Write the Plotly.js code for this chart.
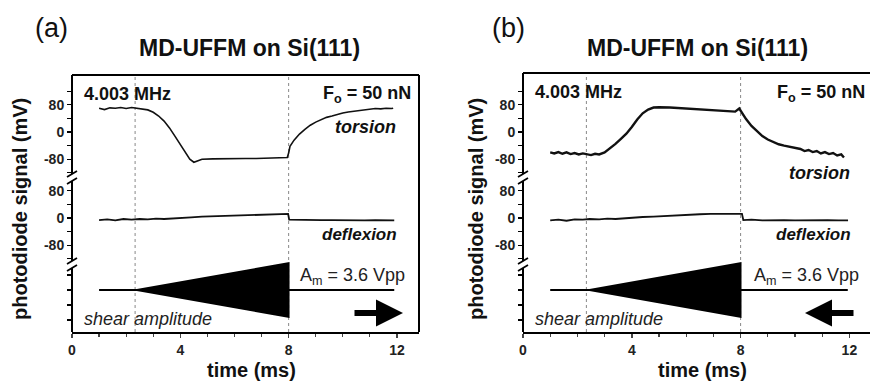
<!DOCTYPE html>
<html><head><meta charset="utf-8">
<script src="https://cdn.plot.ly/plotly-3.0.1.min.js"></script>
<style>html,body{margin:0;padding:0;background:#fff}</style>
</head><body><div id="chart" style="width:870px;height:382px"></div>
<script>
// ---------- data ----------
const panelLabels = ['(a)', '(b)'];
const chartTitle = 'MD-UFFM on Si(111)';
const xTickVals = [0, 4, 8, 12];
const yTickVals = [-120, -80, -40, 0, 40, 80, 120];
const yTickText = ['', '-80', '', '0', '', '80', ''];
const shearTickVals = [-2, -1, 0, 1];

// panel (a): torsion (mV)
const timeTorsionA = [1.0,1.2,1.4,1.6,1.8,2.0,2.2,2.4,2.6,2.8,3.0,3.2,3.4,3.6,3.8,4.0,4.2,4.35,4.5,4.65,4.8,5.2,5.6,6.0,6.4,6.8,7.2,7.6,7.95,8.0,8.05,8.2,8.4,8.6,8.8,9.0,9.2,9.4,9.6,9.8,10.0,10.2,10.4,10.6,10.8,11.0,11.2,11.4,11.6,11.8,11.86];
const torsionA     = [70,66,71,70,72,69,72,70,69,65,58,47,32,12,-12,-37,-62,-80,-89,-84,-80,-79,-78,-79,-78,-78,-77,-77,-75,-62,-42,-24,-6,8,20,29,37,43,47,52,56,59,61,64,65,68,69,68,70,69,70];
// panel (a): deflexion (mV)
const timeDeflA = [1.0,1.3,1.6,1.9,2.2,2.5,2.8,3.1,3.4,3.7,4.0,4.4,4.8,5.2,5.6,6.0,6.4,6.8,7.2,7.6,7.98,8.02,8.4,8.8,9.2,9.6,10.0,10.4,10.8,11.2,11.6,11.9];
const deflA     = [-6,-4,-7,-3,-5,-3,-4,-2,-3,-1,0,2,4,5,7,8,9,10,11,11,12,-5,-6,-7,-6,-6,-7,-6,-7,-6,-7,-7];
// panel (a): shear excitation amplitude (V, half of peak-to-peak)
const shearTimeA = [1.0, 2.4, 8.0, 8.0, 11.9];
const shearAmpA  = [0, 0, 1.8, 0, 0];

// panel (b): torsion (mV)
const timeTorsionB = [1.0,1.15,1.3,1.45,1.6,1.75,1.9,2.05,2.2,2.35,2.5,2.65,2.8,3.0,3.2,3.4,3.6,3.8,4.0,4.2,4.4,4.6,4.8,5.0,5.4,5.8,6.2,6.6,7.0,7.4,7.8,7.95,8.05,8.2,8.4,8.6,8.8,9.0,9.2,9.4,9.6,9.8,10.0,10.2,10.35,10.5,10.65,10.8,10.95,11.1,11.25,11.4,11.55,11.7,11.8];
const torsionB     = [-60,-63,-59,-64,-60,-65,-62,-66,-63,-66,-68,-64,-66,-60,-48,-35,-20,-5,15,37,55,66,72,73,72,70,67,64,62,61,60,69,55,38,18,2,-12,-22,-30,-36,-40,-44,-48,-50,-56,-53,-59,-56,-63,-59,-65,-62,-69,-66,-75];
// panel (b): deflexion (mV)
const timeDeflB = [1.0,1.3,1.6,1.9,2.2,2.45,2.8,3.1,3.4,3.7,4.0,4.4,4.8,5.2,5.6,6.1,6.5,6.9,7.3,7.7,8.05,8.1,8.4,8.8,9.2,9.6,10.0,10.4,10.8,11.2,11.6,11.95];
const deflB     = [-7,-5,-8,-4,-5,-3,-4,-2,-3,-1,1,3,4,6,8,11,11,12,12,12,12,-6,-5,-7,-6,-6,-7,-6,-7,-6,-7,-7];
// panel (b): shear excitation amplitude (V)
const shearTimeB = [1.0, 2.45, 8.0, 8.0, 11.94];
const shearAmpB  = [0, 0, 1.8, 0, 0];

// ---------- layout helpers ----------
const W = 870, H = 382;
const fx = p => p / W;           // pixel x -> paper
const fy = p => 1 - p / H;       // pixel y -> paper
const FONT = 'Liberation Sans, Arial, sans-serif';

// R = right edge of the frame (panel b's frame runs past the page edge)
const panels = [
  {left: 72, R: 419, top: 75, bottom: 332, pxPerMs: 27.08, tTime: timeTorsionA, tVal: torsionA, dTime: timeDeflA, dVal: deflA,
   sTime: shearTimeA, sAmp: shearAmpA, dotted: [2.33, 8], lineW: 1.6, arrowDir: 1,
   labelX: 33, titleX: 249, xTitleX: 251, yTitleX: 20, torsionY: 127},
  {left: 523, R: 873, top: 73, bottom: 332, pxPerMs: 27.2, tTime: timeTorsionB, tVal: torsionB, dTime: timeDeflB, dVal: deflB,
   sTime: shearTimeB, sAmp: shearAmpB, dotted: [2.33, 8], lineW: 2.4, arrowDir: -1,
   labelX: 490, titleX: 697, xTitleX: 702, yTitleX: 476, torsionY: 173}
];

const traces = [], shapes = [], annotations = [];
const layout = {
  width: W, height: H, margin: {l: 0, r: 0, t: 0, b: 0},
  paper_bgcolor: '#fff', plot_bgcolor: 'rgba(0,0,0,0)', showlegend: false,
  font: {family: FONT, color: '#000'}
};

panels.forEach((p, i) => {
  const xa = i === 0 ? 'x' : 'x2';
  const xk = i === 0 ? 'xaxis' : 'xaxis2';
  const yt = 'y' + (i * 3 + 1 === 1 ? '' : (i * 3 + 1));
  const yd = 'y' + (i * 3 + 2);
  const ys = 'y' + (i * 3 + 3);
  const key = s => 'yaxis' + s.slice(1);
  const brk1 = 178, brk2 = 265;
  const zeroT = 132, zeroD = 218, zeroS = 290, kT = 0.34, kD = 0.34, kS = 15;
  const dom = {t: [brk1 - 1, p.top], d: [brk2 + 1, 180], s: [p.bottom, 258]};
  const right = Math.min(p.R, W);

  layout[xk] = {
    domain: [fx(p.left), fx(right)], range: [0, (right - p.left) / p.pxPerMs], anchor: ys,
    tickmode: 'array', tickvals: xTickVals, ticks: 'outside', ticklen: 4, tickwidth: 1.5,
    minor: {dtick: 1, tick0: 0, ticks: 'outside', ticklen: 3, tickwidth: 1.2, showgrid: false},
    showline: true, linewidth: 2, linecolor: '#000', showgrid: false, zeroline: false,
    tickfont: {family: FONT, size: 14, weight: 'bold', color: '#222'}
  };
  const yBase = {
    anchor: xa, showgrid: false, zeroline: false, showline: false, ticks: 'outside', ticklen: 4, tickwidth: 1.3,
    tickcolor: '#000', tickfont: {family: FONT, size: 14, weight: 'bold', color: '#222'}
  };
  layout[key(yt)] = Object.assign({}, yBase, {
    domain: [fy(dom.t[0]), fy(dom.t[1])],
    range: [-(dom.t[0] - zeroT) / kT, (zeroT - dom.t[1]) / kT],
    tickmode: 'array', tickvals: yTickVals, ticktext: yTickText});
  layout[key(yd)] = Object.assign({}, yBase, {
    domain: [fy(dom.d[0]), fy(dom.d[1])],
    range: [-(dom.d[0] - zeroD) / kD, (zeroD - dom.d[1]) / kD],
    tickmode: 'array', tickvals: yTickVals, ticktext: yTickText});
  layout[key(ys)] = Object.assign({}, yBase, {
    domain: [fy(dom.s[0]), fy(dom.s[1])],
    range: [-(dom.s[0] - zeroS) / kS, (zeroS - dom.s[1]) / kS],
    tickmode: 'array', tickvals: shearTickVals, ticktext: shearTickVals.map(() => '')});

  // torsion / deflexion traces
  traces.push({type: 'scatter', mode: 'lines', x: p.tTime, y: p.tVal, xaxis: xa, yaxis: yt,
    line: {color: '#111', width: p.lineW}});
  traces.push({type: 'scatter', mode: 'lines', x: p.dTime, y: p.dVal, xaxis: xa, yaxis: yd,
    line: {color: '#111', width: 1.8}});
  // shear amplitude envelope (filled)
  const envX = p.sTime.concat(p.sTime.slice().reverse());
  const envY = p.sAmp.concat(p.sAmp.slice().reverse().map(v => -v));
  traces.push({type: 'scatter', mode: 'lines', x: envX, y: envY, xaxis: xa, yaxis: ys,
    fill: 'toself', fillcolor: '#000', line: {color: '#000', width: 1.8}});

  // frame: top, right (if visible), left (broken)
  const L = {type: 'line', xref: 'paper', yref: 'paper', line: {color: '#000', width: 2}};
  shapes.push(Object.assign({}, L, {x0: fx(p.left), x1: fx(right), y0: fy(p.top), y1: fy(p.top)}));
  if (p.R <= W) shapes.push(Object.assign({}, L, {x0: fx(p.R), x1: fx(p.R), y0: fy(p.top), y1: fy(p.bottom)}));
  shapes.push(Object.assign({}, L, {x0: fx(p.left), x1: fx(p.left), y0: fy(p.top), y1: fy(brk1 - 4)}));
  shapes.push(Object.assign({}, L, {x0: fx(p.left), x1: fx(p.left), y0: fy(brk1 + 3), y1: fy(brk2 - 4)}));
  shapes.push(Object.assign({}, L, {x0: fx(p.left), x1: fx(p.left), y0: fy(brk2 + 3), y1: fy(p.bottom)}));
  [brk1, brk2].forEach(b => {
    [-4, 3].forEach(o => {
      shapes.push({type: 'line', xref: 'paper', yref: 'paper', line: {color: '#000', width: 1.8},
        x0: fx(p.left - 5), y0: fy(b + o + 3), x1: fx(p.left + 5), y1: fy(b + o - 3)});
    });
  });
  // dotted guide lines
  p.dotted.forEach(t => shapes.push({type: 'line', xref: xa, yref: 'paper', x0: t, x1: t,
    y0: fy(p.bottom), y1: fy(p.top), line: {color: '#888', width: 1, dash: 'dot'}, layer: 'below'}));

  // text
  const A = (o) => Object.assign({xref: 'paper', yref: 'paper', showarrow: false,
    font: {family: FONT, size: 18, color: '#111'}}, o);
  const R = p.R;
  annotations.push(A({text: panelLabels[i], x: fx(p.labelX), y: fy(28), xanchor: 'left', yanchor: 'middle',
    font: {family: FONT, size: 27, color: '#111'}}));
  annotations.push(A({text: '<b>' + chartTitle + '</b>', x: fx(p.titleX), y: fy(48), xanchor: 'center', yanchor: 'middle',
    font: {family: FONT, size: 23, color: '#111'}}));
  annotations.push(A({text: '<b>4.003 MHz</b>', x: fx(p.left + 10), y: fy(p.top + 19), xanchor: 'left', yanchor: 'middle'}));
  annotations.push(A({text: '<b>F<sub>o</sub> = 50 nN</b>', x: fx(R - 6), y: fy(p.top + 20), xanchor: 'right', yanchor: 'middle'}));
  annotations.push(A({text: '<b><i>torsion</i></b>', x: fx(R - 21), y: fy(p.torsionY), xanchor: 'right', yanchor: 'middle',
    font: {family: FONT, size: 18, color: '#111'}}));
  annotations.push(A({text: '<b><i>deflexion</i></b>', x: fx(R - 20), y: fy(234), xanchor: 'right', yanchor: 'middle',
    font: {family: FONT, size: 17, color: '#111'}}));
  annotations.push(A({text: 'A<sub>m</sub> = 3.6 Vpp', x: fx(R - 12), y: fy(276), xanchor: 'right', yanchor: 'middle',
    font: {family: FONT, size: 18, color: '#222'}}));
  annotations.push(A({text: '<i>shear amplitude</i>', x: fx(p.left + 10), y: fy(319), xanchor: 'left', yanchor: 'middle',
    font: {family: FONT, size: 18, color: '#222'}}));
  annotations.push(A({text: '<b>photodiode signal (mV)</b>', x: fx(p.yTitleX), y: fy(209), xanchor: 'center', yanchor: 'middle',
    textangle: -90, font: {family: FONT, size: 20, color: '#111'}}));
  annotations.push(A({text: '<b>time (ms)</b>', x: fx(p.xTitleX), y: fy(370), xanchor: 'center', yanchor: 'middle',
    font: {family: FONT, size: 20, color: '#111'}}));
  // direction arrow
  const headX = p.arrowDir > 0 ? R - 16 : R - 68;
  annotations.push({xref: 'paper', yref: 'paper', x: fx(headX), y: fy(313), ax: -p.arrowDir * 50, ay: 0,
    axref: 'pixel', ayref: 'pixel', showarrow: true, text: '', arrowhead: 2, arrowsize: 0.9, arrowwidth: 6, arrowcolor: '#000'});
});

layout.shapes = shapes;
layout.annotations = annotations;
Plotly.newPlot('chart', traces, layout, {staticPlot: true, displayModeBar: false});
</script>
</body></html>
